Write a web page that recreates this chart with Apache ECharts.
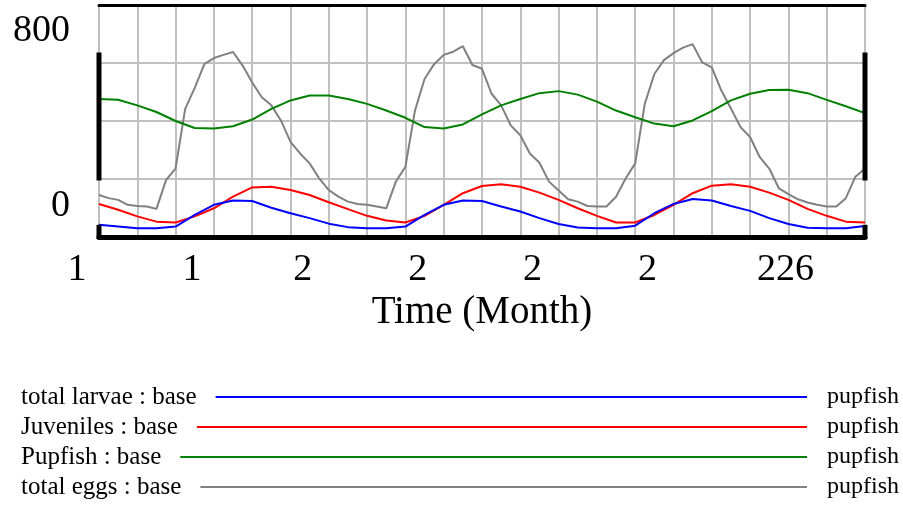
<!DOCTYPE html>
<html><head><meta charset="utf-8">
<script src="https://cdn.jsdelivr.net/npm/echarts@6/dist/echarts.min.js"></script>
<style>html,body{margin:0;padding:0;background:#fff}#c{width:903px;height:512px}</style>
</head><body><div id="c"></div>
<script>
// ---- data ----
const months = [190,191,192,193,194,195,196,197,198,199,200,201,202,203,204,205,206,207,208,209,210,
                211,212,213,214,215,216,217,218,219,220,221,222,223,224,225,226,227,228,229,230];
const totalLarvae = [42,36,30,30,36,76,111,126,124,101,82,65,46,34,30,30,36,76,111,126,124,
                     105,88,65,45,33,30,30,39,82,114,131,126,107,90,65,45,32,30,30,38];
const juveniles = [114,94,71,53,50,71,99,139,171,173,162,145,120,96,73,57,50,73,111,151,176,
                   182,173,153,128,99,73,50,50,76,111,151,177,182,173,153,128,97,73,53,50];
const pupfish = [476,473,454,431,400,376,374,382,405,442,471,488,488,476,459,436,411,379,374,388,423,
                 454,476,496,503,491,467,436,413,391,382,402,434,471,494,507,508,496,473,451,427];
const eggMonths = [190,190.5,191,191.5,192,192.5,193,193.5,194,194.5,195,195.5,196,196.5,197,197.5,198,198.5,199,199.5,
                   200,200.5,201,201.5,202,202.5,203,203.5,204,204.5,205,205.5,206,206.5,207,207.5,208,208.5,209,209.5,
                   210,210.5,211,211.5,212,212.5,213,213.5,214,214.5,215,215.5,216,216.5,217,217.5,218,218.5,219,219.5,
                   220,220.5,221,221.5,222,222.5,223,223.5,224,224.5,225,225.5,226,226.5,227,227.5,228,228.5,229,229.5,230];
const totalEggs = [145,134,128,111,107,105,97,196,237,442,514,596,617,628,638,591,533,482,454,402,
                   328,288,254,202,162,139,122,114,111,105,99,191,242,436,545,596,628,639,658,593,
                   580,494,454,385,351,288,256,191,160,130,122,107,105,105,139,202,254,459,562,610,
                   634,653,665,602,585,505,443,379,345,276,236,168,148,130,119,111,105,105,134,208,236];
const seriesNames = ['total larvae : base','Juveniles : base','Pupfish : base','total eggs : base'];
const seriesUnits = ['pupfish','pupfish','pupfish','pupfish'];
const xTickValues = [190,196,202,208,214,220,226];
const xTickLabels = ['1','1','2','2','2','2','226'];
const yTickValues = [0,800];
const yTickLabels = ['0','800'];
const xAxisTitle = 'Time (Month)';

// ---- styles ----
const colors = ['#0000ff','#ff0000','#008000','#808080'];
const FONT = '"Liberation Serif","Times New Roman",serif';

const chart = echarts.init(document.getElementById('c'), null, {renderer:'canvas'});

function pairs(xs, ys){ return xs.map((m,i)=>[m,ys[i]]); }
const seriesPoints = [pairs(months,totalLarvae), pairs(months,juveniles), pairs(months,pupfish), pairs(eggMonths,totalEggs)];

const series = [];
for (let i = seriesPoints.length-1; i >= 0; i--) {
  series.push({
    name: seriesNames[i], type:'line', data: seriesPoints[i],
    showSymbol:false, symbol:'none', lineStyle:{color:colors[i], width:2}, itemStyle:{color:colors[i]},
    z: 3 + (seriesPoints.length - i)
  });
}

chart.setOption({
  animation:false,
  grid:{left:99, right:38, top:5, bottom:275},
  xAxis:[{
    type:'value', min:190, max:230, interval:2,
    axisLine:{show:true, lineStyle:{color:'#000', width:5, cap:'round'}},
    axisTick:{show:false},
    splitLine:{show:true, lineStyle:{color:'#c0c0c0', width:2}},
    axisLabel:{
      show:true, margin:14, fontFamily:FONT, fontSize:38, color:'#000',
      showMinLabel:true, showMaxLabel:false,
      formatter:function(v){
        const k = xTickValues.indexOf(v);
        if (k < 0) return '';
        const s = xTickLabels[k];
        if (s.length > 1) return '{f|' + s + '}';
        return (s === '1' ? '{o|' : '{c|') + s + '}';
      },
      rich:{
        o:{fontFamily:FONT, fontSize:38, color:'#000', padding:[0,44,0,0]},
        c:{fontFamily:FONT, fontSize:38, color:'#000', padding:[0,52,0,0]},
        f:{fontFamily:FONT, fontSize:38, color:'#000', padding:[0,6,0,0]}
      }
    },
    name:xAxisTitle, nameLocation:'middle', nameGap:56,
    nameTextStyle:{fontFamily:FONT, fontSize:39, color:'#000'}
  },{
    type:'value', position:'top', min:190, max:230, interval:2,
    axisLine:{show:true, lineStyle:{color:'#000', width:3, cap:'round'}},
    axisTick:{show:false}, axisLabel:{show:false}, splitLine:{show:false}
  }],
  yAxis:{
    type:'value', min:0, max:800, interval:200,
    axisLine:{show:false}, axisTick:{show:false},
    splitLine:{show:true, lineStyle:{color:'#c0c0c0', width:2}},
    axisLabel:{
      show:true, margin:29, fontFamily:FONT, fontSize:38, color:'#000',
      showMinLabel:true, showMaxLabel:true,
      formatter:function(v){
        const k = yTickValues.indexOf(v);
        if (k < 0) return '';
        return (v === 0 ? '{b|' : '{t|') + yTickLabels[k] + '}';
      },
      rich:{
        t:{fontFamily:FONT, fontSize:38, color:'#000', padding:[52,0,0,0]},
        b:{fontFamily:FONT, fontSize:38, color:'#000', padding:[0,0,62,0]}
      }
    }
  },
  series: series
});

// ---- frame side bars and legend ----
function px(t, v){ return chart.convertToPixel({gridIndex:0}, [t, v]); }
const g = [];
const L = px(190, 0)[0], R = px(230, 0)[0];
const yTopBar = px(190, 636)[1], yMidBar = px(190, 195)[1];
const yLowBar = px(190, 42)[1], yZero = px(190, 0)[1];
[L, R].forEach(function(x){
  g.push({type:'rect', shape:{x:x-2.5, y:yTopBar, width:5, height:yMidBar-yTopBar}, style:{fill:'#000'}, z:50});
  g.push({type:'rect', shape:{x:x-2.5, y:yLowBar, width:5, height:yZero-yLowBar+2}, style:{fill:'#000'}, z:50});
});

const canvas = document.createElement('canvas');
const ctx = canvas.getContext('2d');
const NFS = 25, UFS = 24;
ctx.font = NFS + 'px "Liberation Serif"';
const rowY = [397, 427, 457, 487];
seriesNames.forEach(function(name, i){
  const w = ctx.measureText(name).width;
  g.push({type:'text', x:21, y:rowY[i], style:{text:name, font:NFS+'px "Liberation Serif"', fill:'#000', textVerticalAlign:'middle', verticalAlign:'middle'}, z:50});
  g.push({type:'line', shape:{x1:21+w+19, y1:rowY[i], x2:807, y2:rowY[i]}, style:{stroke:colors[i], lineWidth:2}, z:50});
  g.push({type:'text', x:827, y:rowY[i], style:{text:seriesUnits[i], font:UFS+'px "Liberation Serif"', fill:'#000', textVerticalAlign:'middle', verticalAlign:'middle'}, z:50});
});
chart.setOption({graphic:g});
</script>
</body></html>
